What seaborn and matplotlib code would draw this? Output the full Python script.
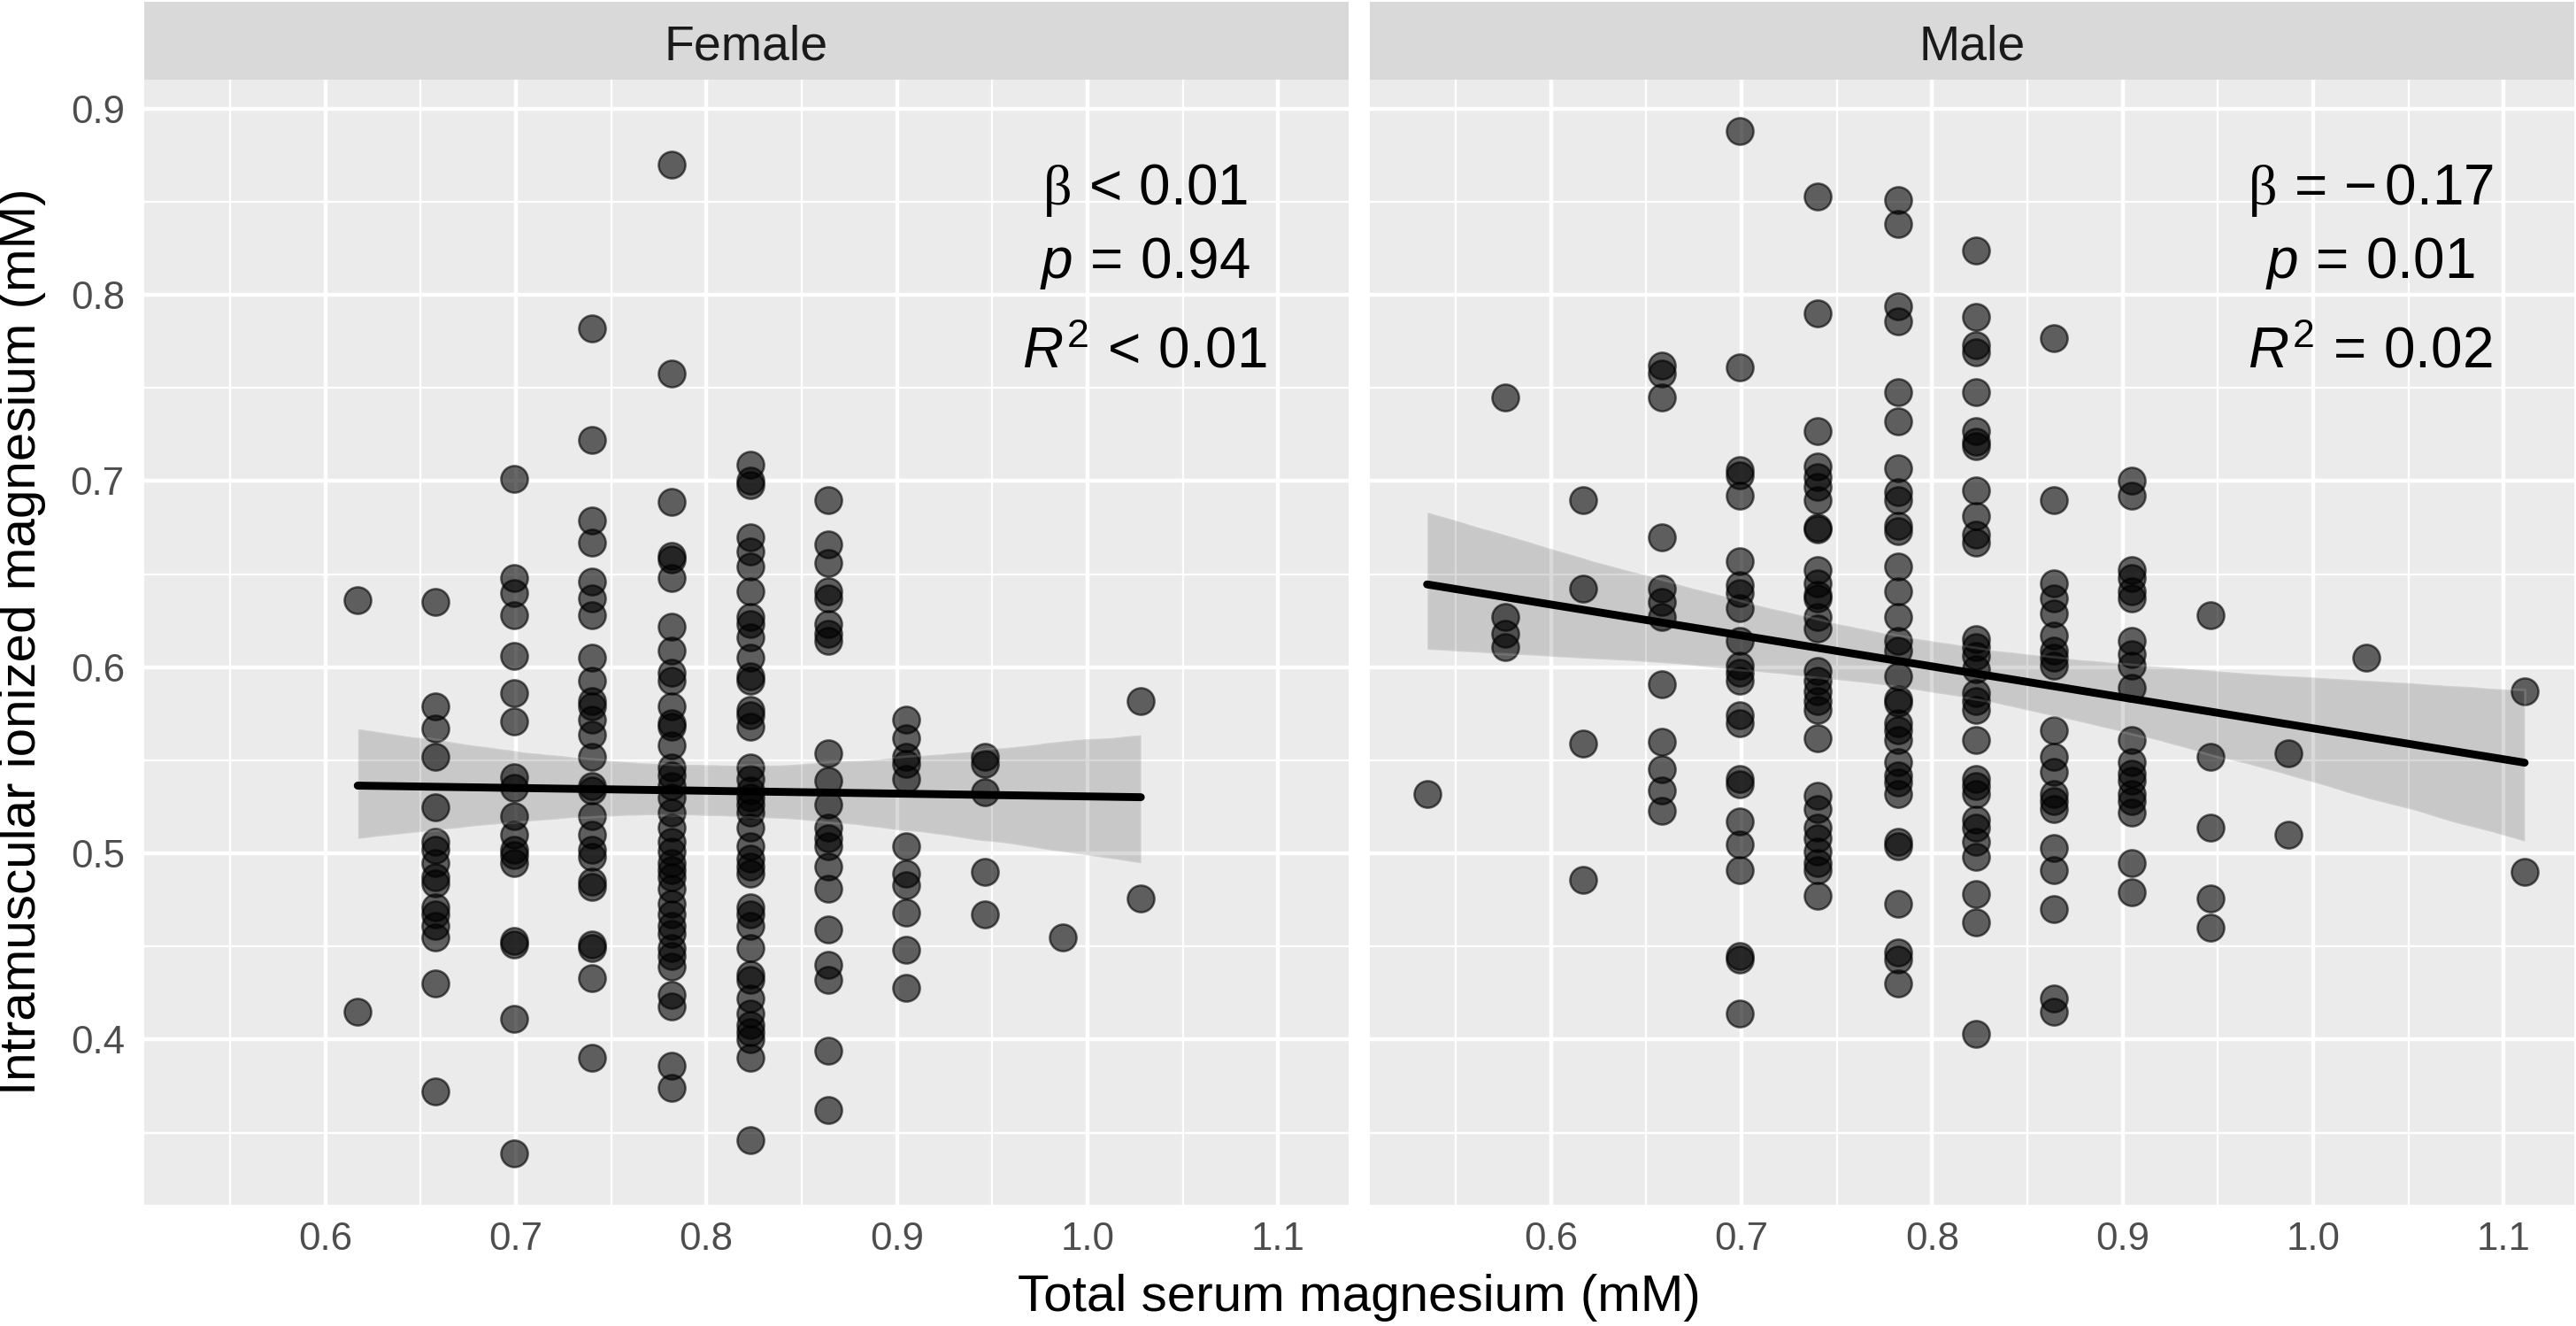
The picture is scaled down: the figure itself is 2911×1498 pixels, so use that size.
import pandas as pd
import matplotlib.pyplot as plt
from matplotlib.patches import Rectangle
from matplotlib.ticker import MultipleLocator
import seaborn as sns

# --- Female ---
f_0617 = [0.636, 0.415]
f_0658 = [0.635, 0.579, 0.567, 0.552, 0.525, 0.506, 0.502, 0.495, 0.487, 0.484,
          0.471, 0.467, 0.461, 0.455, 0.430, 0.372]
f_0699 = [0.701, 0.648, 0.640, 0.628, 0.606, 0.586, 0.571, 0.541, 0.535, 0.520,
          0.510, 0.502, 0.499, 0.495, 0.453, 0.451, 0.411, 0.339]
f_0740 = [0.782, 0.722, 0.679, 0.667, 0.646, 0.637, 0.628, 0.605, 0.593, 0.582,
          0.579, 0.572, 0.564, 0.552, 0.536, 0.534, 0.520, 0.510, 0.502, 0.498,
          0.485, 0.482, 0.451, 0.449, 0.433, 0.390]
f_0782 = [0.870, 0.758, 0.689, 0.660, 0.658, 0.648, 0.622, 0.609, 0.597, 0.593,
          0.579, 0.570, 0.568, 0.558, 0.546, 0.542, 0.536, 0.530, 0.522, 0.514,
          0.506, 0.501, 0.495, 0.491, 0.487, 0.481, 0.473, 0.467, 0.461, 0.457,
          0.449, 0.445, 0.439, 0.424, 0.418, 0.386, 0.374]
f_0823 = [0.709, 0.700, 0.698, 0.670, 0.662, 0.654, 0.641, 0.627, 0.623, 0.616,
          0.605, 0.595, 0.593, 0.577, 0.574, 0.568, 0.546, 0.540, 0.534, 0.530,
          0.526, 0.522, 0.514, 0.504, 0.497, 0.493, 0.489, 0.471, 0.467, 0.461,
          0.449, 0.435, 0.432, 0.422, 0.414, 0.408, 0.404, 0.400, 0.390, 0.346]
f_0864 = [0.690, 0.666, 0.656, 0.641, 0.637, 0.623, 0.618, 0.614, 0.554, 0.539,
          0.526, 0.514, 0.508, 0.504, 0.493, 0.481, 0.459, 0.440, 0.432, 0.394,
          0.362]
f_0905 = [0.572, 0.562, 0.552, 0.548, 0.540, 0.504, 0.489, 0.483, 0.468, 0.448,
          0.428]
f_0946 = [0.552, 0.548, 0.533, 0.490, 0.467]
f_0987 = [0.455]
f_1028 = [0.582, 0.476]

# --- Male ---
m_0535 = [0.532]
m_0576 = [0.745, 0.627, 0.618, 0.611]
m_0617 = [0.690, 0.642, 0.559, 0.486]
m_0658 = [0.762, 0.758, 0.745, 0.670, 0.642, 0.635, 0.627, 0.591, 0.560, 0.545,
          0.534, 0.523]
m_0699 = [0.888, 0.761, 0.706, 0.703, 0.692, 0.657, 0.644, 0.640, 0.632, 0.614,
          0.601, 0.597, 0.593, 0.574, 0.570, 0.540, 0.537, 0.517, 0.505, 0.491,
          0.445, 0.443, 0.414]
m_0740 = [0.853, 0.790, 0.727, 0.708, 0.702, 0.697, 0.690, 0.675, 0.674, 0.652,
          0.645, 0.639, 0.637, 0.627, 0.621, 0.598, 0.593, 0.587, 0.582, 0.577,
          0.562, 0.531, 0.524, 0.514, 0.508, 0.501, 0.495, 0.491, 0.477]
m_0782 = [0.851, 0.838, 0.794, 0.786, 0.748, 0.732, 0.707, 0.694, 0.690, 0.676,
          0.673, 0.654, 0.641, 0.627, 0.614, 0.609, 0.595, 0.583, 0.581, 0.570,
          0.566, 0.561, 0.549, 0.542, 0.538, 0.532, 0.506, 0.504, 0.473, 0.447,
          0.443, 0.430]
m_0823 = [0.824, 0.788, 0.773, 0.769, 0.748, 0.727, 0.721, 0.719, 0.695, 0.681,
          0.671, 0.667, 0.615, 0.611, 0.606, 0.599, 0.586, 0.582, 0.577, 0.561,
          0.540, 0.536, 0.532, 0.518, 0.514, 0.506, 0.498, 0.478, 0.463, 0.403]
m_0864 = [0.777, 0.690, 0.645, 0.637, 0.629, 0.617, 0.609, 0.605, 0.601, 0.566,
          0.552, 0.544, 0.532, 0.528, 0.524, 0.503, 0.491, 0.470, 0.422, 0.415]
m_0905 = [0.700, 0.692, 0.652, 0.648, 0.641, 0.637, 0.614, 0.607, 0.601, 0.589,
          0.561, 0.549, 0.543, 0.539, 0.532, 0.528, 0.522, 0.495, 0.479]
m_0946 = [0.628, 0.552, 0.514, 0.476, 0.460]
m_0987 = [0.554, 0.510]
m_1028 = [0.605]
m_1111 = [0.587, 0.490]

female_cols = [(0.617, f_0617), (0.658, f_0658), (0.699, f_0699), (0.740, f_0740),
               (0.782, f_0782), (0.823, f_0823), (0.864, f_0864), (0.905, f_0905),
               (0.946, f_0946), (0.987, f_0987), (1.028, f_1028)]
male_cols = [(0.535, m_0535), (0.576, m_0576), (0.617, m_0617), (0.658, m_0658),
             (0.699, m_0699), (0.740, m_0740), (0.782, m_0782), (0.823, m_0823),
             (0.864, m_0864), (0.905, m_0905), (0.946, m_0946), (0.987, m_0987),
             (1.028, m_1028), (1.111, m_1111)]

panels = ['Female', 'Male']
stats_female = [r'$\mathcal{\beta}\,<\,0.01$', r'$p\,=\,0.94$', r'$R^2\,<\,0.01$']
stats_male = [r'$\mathcal{\beta}\,=\,{-}\,0.17$', r'$p\,=\,0.01$', r'$R^2\,=\,0.02$']

rows = []
for sex, cols in [('Female', female_cols), ('Male', male_cols)]:
    for serum, vals in cols:
        for v in vals:
            rows.append({'sex': sex, 'serum': serum, 'ionized': v})
df = pd.DataFrame(rows)

# ggplot-like look
sns.set_theme(style="darkgrid", rc={"axes.facecolor": "#EBEBEB",
                                    "grid.color": "white",
                                    "axes.edgecolor": "#EBEBEB"})
plt.rcParams['font.family'] = ['Liberation Sans', 'DejaVu Sans']
plt.rcParams['mathtext.fontset'] = 'custom'
plt.rcParams['mathtext.rm'] = 'Liberation Sans'
plt.rcParams['mathtext.it'] = 'Liberation Sans:italic'
plt.rcParams['mathtext.cal'] = 'Liberation Serif'

fig = plt.figure(figsize=(14.555, 7.49), dpi=200)
ax1 = fig.add_axes([0.0560, 0.0915, 0.4675, 0.8485])
ax2 = fig.add_axes([0.5318, 0.0915, 0.4675, 0.8485])

for ax, sex, stats in [(ax1, 'Female', stats_female), (ax2, 'Male', stats_male)]:
    sub = df[df['sex'] == sex]
    sns.regplot(data=sub, x='serum', y='ionized', ax=ax, ci=95, n_boot=2000, seed=7,
                scatter_kws=dict(s=118, color='black', alpha=0.6,
                                 edgecolors='black', linewidths=0.9),
                line_kws=dict(color='black', lw=3.2))
    ax.set_xlim(0.505, 1.137)
    ax.set_ylim(0.3113, 0.9157)
    ax.xaxis.set_major_locator(MultipleLocator(0.1))
    ax.xaxis.set_minor_locator(MultipleLocator(0.05))
    ax.yaxis.set_major_locator(MultipleLocator(0.1))
    ax.yaxis.set_minor_locator(MultipleLocator(0.05))
    ax.grid(which='major', color='white', lw=1.6)
    ax.grid(which='minor', color='white', lw=0.8)
    ax.set_axisbelow(True)
    for sp in ax.spines.values():
        sp.set_visible(False)
    ax.tick_params(which='major', length=4, width=1.1, color='#333333',
                   labelsize=15.8, labelcolor='#4D4D4D')
    ax.tick_params(axis='x', pad=3)
    ax.tick_params(axis='y', pad=4)
    ax.tick_params(which='minor', length=0)
    ax.set_xlabel('')
    ax.set_ylabel('')

    # facet strip
    ax.add_patch(Rectangle((0, 1), 1, 0.0692, transform=ax.transAxes,
                           facecolor='#D9D9D9', edgecolor='none', clip_on=False))
    ax.text(0.5, 1.0173, sex, transform=ax.transAxes, ha='center', va='baseline',
            fontsize=20, color='#1A1A1A')

    # regression stats
    for label, yy in zip(stats, [0.8486, 0.8092, 0.7607]):
        ax.text(1.03, yy, label, ha='center', va='baseline', fontsize=23, color='black')

ax2.tick_params(axis='y', which='both', left=False, labelleft=False)
ax1.set_xticks([0.6, 0.7, 0.8, 0.9, 1.0, 1.1])
ax2.set_xticks([0.6, 0.7, 0.8, 0.9, 1.0, 1.1])
for ax in (ax1, ax2):
    ax.set_xticklabels(['0.6', '0.7', '0.8', '0.9', '1.0', '1.1'])

fig.text(0.5277, 0.0214, 'Total serum magnesium (mM)', ha='center', va='center',
         fontsize=21, color='black')
fig.text(0.0086, 0.516, 'Intramuscular ionized magnesium (mM)', ha='center',
         va='center', rotation=90, fontsize=21, color='black')

fig.savefig('out.png', dpi=200, facecolor='white')
